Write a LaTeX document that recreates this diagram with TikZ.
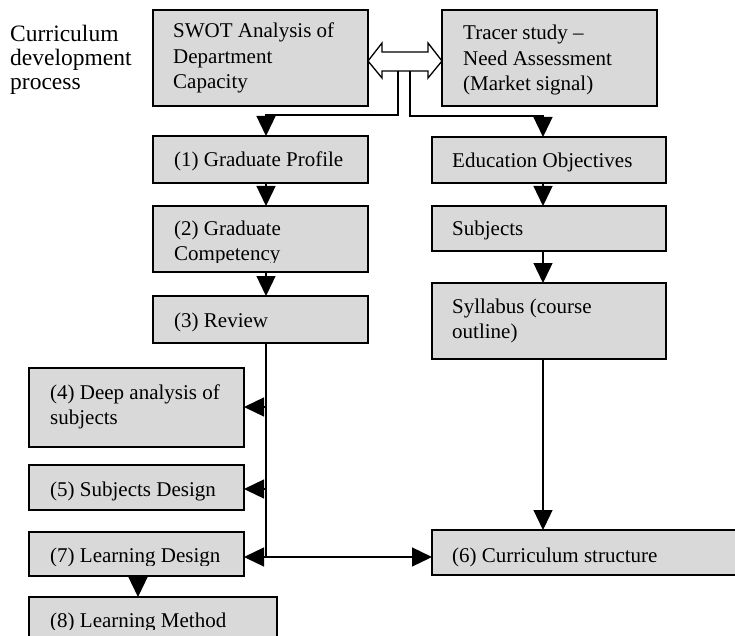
\documentclass[tikz,border=0pt]{standalone}
\usepackage{fontspec}
\setmainfont{Liberation Serif}
\usetikzlibrary{arrows.meta}
\definecolor{boxgray}{HTML}{D9D9D9}
\begin{document}
\begin{tikzpicture}[x=1pt,y=-1pt,
  box/.style={draw=black, line width=1.6pt, fill=boxgray, anchor=north west, inner sep=0pt, outer sep=0pt},
  txt/.style={anchor=base west, inner sep=0pt, align=left, font=\fontsize{21}{25.5}\selectfont},
  lbl/.style={anchor=base west, inner sep=0pt, align=left, font=\fontsize{23.5}{24}\selectfont},
  arr/.style={line width=1.3pt, -{Triangle[length=20pt,width=19pt]}},
  ln/.style={line width=1.3pt}]
\useasboundingbox (0,0) rectangle (735,636);

% boxes
\node[box, minimum width=215, minimum height=96] (swot) at (153,10) {};
\node[box, minimum width=215, minimum height=96] (tracer) at (442,10) {};
\node[box, minimum width=215, minimum height=47] (gp) at (153,136) {};
\node[box, minimum width=234, minimum height=46] (eo) at (432,137) {};
\node[box, minimum width=215, minimum height=66] (comp) at (153,206) {};
\node[box, minimum width=234, minimum height=45] (subj) at (432,206) {};
\node[box, minimum width=215, minimum height=47] (rev) at (153,296) {};
\node[box, minimum width=234, minimum height=76] (syl) at (432,283) {};
\node[box, minimum width=215, minimum height=79] (deep) at (29,368) {};
\node[box, minimum width=215, minimum height=45] (sd) at (29,465) {};
\node[box, minimum width=215, minimum height=44] (ld) at (29,532) {};
\node[box, minimum width=248, minimum height=60] (lm) at (29,597) {};
\node[box, minimum width=340, minimum height=45] (cs) at (432,530) {};

% texts (base anchor = baseline of the last line)
\node[lbl] (title) at (10,90) {Curriculum\\development\\process};
\node[txt] (swot-t) at (173,89) {SWOT Analysis of\\Department\\Capacity};
\node[txt] (tracer-t) at (463,91) {Tracer study --\\Need Assessment\\(Market signal)};
\node[txt] (gp-t) at (174,167) {(1) Graduate Profile};
\node[txt] (eo-t) at (452,168) {Education Objectives};
\begin{scope}
  \clip (153,206) rectangle (368,262);
  \node[txt] (comp-t) at (174,260.5) {(2) Graduate\\Competency};
\end{scope}
\node[txt] (subj-t) at (452,235) {Subjects};
\node[txt] (rev-t) at (174,327) {(3) Review};
\node[txt] (syl-t) at (452,338.5) {Syllabus (course\\outline)};
\node[txt] (deep-t) at (50,424.5) {(4) Deep analysis of\\subjects};
\node[txt] (sd-t) at (50,496) {(5) Subjects Design};
\begin{scope}
  \clip (29,532) rectangle (244,565);
  \node[txt] (ld-t) at (50,562) {(7) Learning Design};
\end{scope}
\begin{scope}
  \clip (29,597) rectangle (277,629);
  \node[txt] (lm-t) at (50,627) {(8) Learning Method};
\end{scope}
\node[txt] (cs-t) at (452,562) {(6) Curriculum structure};

% double arrow between SWOT and Tracer
\draw[line width=1.3pt, fill=white] (368,61) -- (382,43) -- (382,52) -- (428,52) -- (428,43)
  -- (442,61) -- (428,78) -- (428,71) -- (382,71) -- (382,78) -- cycle;

% connectors
\coordinate (j1) at (398,71);
\coordinate (j2) at (410,71);
\coordinate (a1) at (266,115);
\coordinate (a2) at (543,116);
\coordinate (a3) at (138,0);
\coordinate (b1) at (266,407);
\coordinate (b2) at (266,489);
\coordinate (b3) at (266,557);

\draw[arr] (j1) |- (a1) -- (a1 |- gp.north);
\draw[arr] (j2) |- (a2) -- (a2 |- eo.north);
\draw[arr] (gp.south -| a1) -- (comp.north -| a1);
\draw[arr] (comp.south -| a1) -- (rev.north -| a1);
\draw[arr] (eo.south -| a2) -- (subj.north -| a2);
\draw[arr] (subj.south -| a2) -- (syl.north -| a2);
\draw[arr] (syl.south -| a2) -- (cs.north -| a2);
\draw[ln] (rev.south -| a1) -- (b3);
\draw[arr] (b1) -- (b1 -| deep.east);
\draw[arr] (b2) -- (b2 -| sd.east);
\draw[arr] (b3) -- (b3 -| ld.east);
\draw[arr] (b3) -- (b3 -| cs.west);
\draw[arr] (ld.south -| a3) -- (lm.north -| a3);
\end{tikzpicture}
\end{document}
